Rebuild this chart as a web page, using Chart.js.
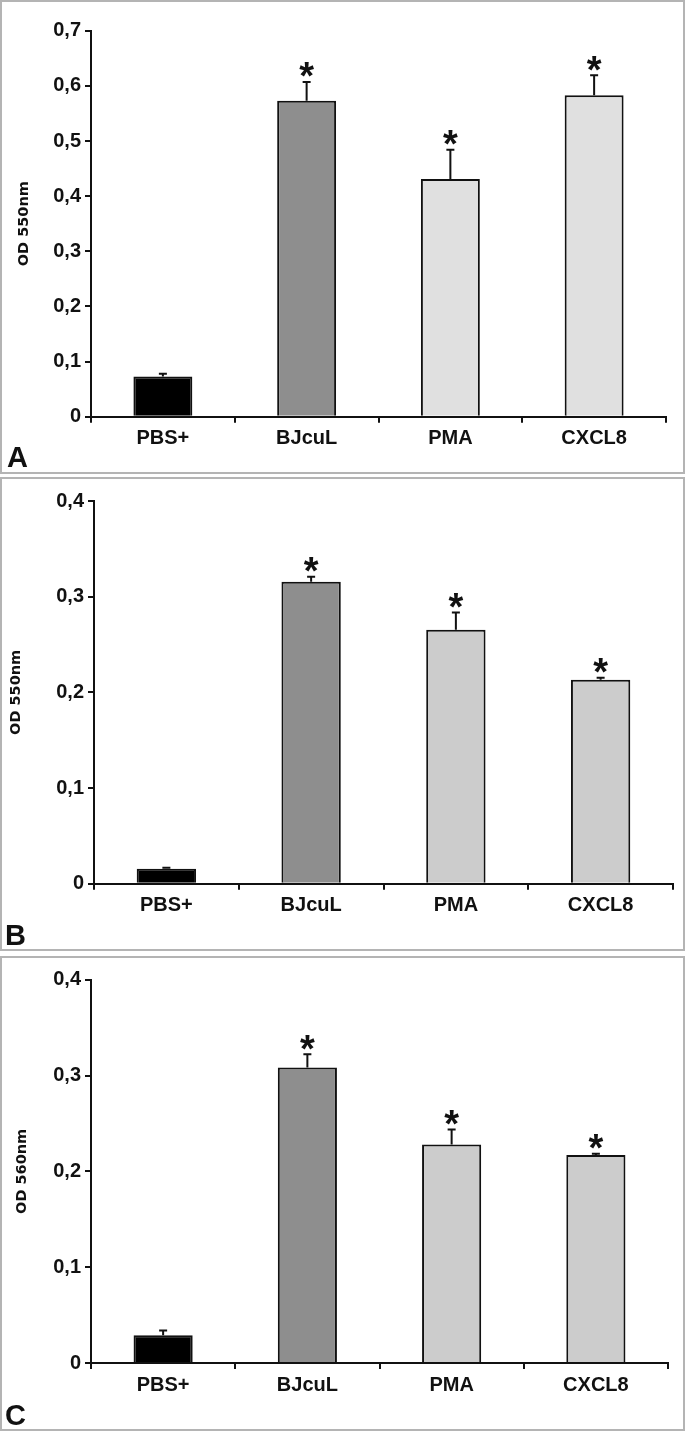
<!DOCTYPE html>
<html><head><meta charset="utf-8">
<script src="https://cdn.jsdelivr.net/npm/chart.js@4.4.1/dist/chart.umd.min.js"></script>
<style>
html,body{margin:0;padding:0;background:#fff;}
body{position:relative;width:685px;height:1433px;overflow:hidden;}
.frame{position:absolute;left:0;width:685px;box-sizing:border-box;border:2px solid #b4b4b4;}
.wrap{position:absolute;left:0;}
.letter{position:absolute;font-family:'Liberation Sans',Arial,sans-serif;font-weight:bold;font-size:29px;color:#111;line-height:1;}
</style></head><body>
<div class="frame" style="top:0;height:474px"></div>
<div class="frame" style="top:477px;height:474px"></div>
<div class="frame" style="top:956px;height:475px"></div>
<div class="wrap" style="top:0"><canvas id="cA" width="685" height="474"></canvas></div>
<div class="wrap" style="top:477px"><canvas id="cB" width="685" height="474"></canvas></div>
<div class="wrap" style="top:956px"><canvas id="cC" width="685" height="475"></canvas></div>
<div class="letter" style="left:7px;top:443px">A</div>
<div class="letter" style="left:5px;top:921px">B</div>
<div class="letter" style="left:5px;top:1401px">C</div>
<script>
// ---- data ----
const categories = ['PBS+', 'BJcuL', 'PMA', 'CXCL8'];
const stars = ['', '*', '*', '*'];

const valuesA = [0.073, 0.573, 0.431, 0.583];
const errorsA = [0.005, 0.034, 0.053, 0.036];
const ticksA = ['0', '0,1', '0,2', '0,3', '0,4', '0,5', '0,6', '0,7'];

const valuesB = [0.0157, 0.3157, 0.2655, 0.2132];
const errorsB = [0.001, 0.005, 0.018, 0.002];
const ticksB = ['0', '0,1', '0,2', '0,3', '0,4'];

const valuesC = [0.029, 0.3085, 0.228, 0.217];
const errorsC = [0.005, 0.0136, 0.0156, 0.0014];
const ticksC = ['0', '0,1', '0,2', '0,3', '0,4'];

const titleA = 'OD 550nm', titleB = 'OD 550nm', titleC = 'OD 560nm';

// ---- styles ----
const INK = '#111';
const colorsA = ['#000000', '#8e8e8e', '#e0e0e0', '#e0e0e0'];
const colorsBC = ['#000000', '#8e8e8e', '#cccccc', '#cccccc'];

const errorPlugin = {
  id: 'errorStars',
  afterDatasetsDraw(chart, args, opts) {
    const ctx = chart.ctx, y = chart.scales.y;
    const meta = chart.getDatasetMeta(0);
    const ds = chart.data.datasets[0];
    ctx.save();
    meta.data.forEach((bar, i) => {
      const v = ds.data[i], e = opts.errors[i];
      const yTop = y.getPixelForValue(v + e);
      const yBar = y.getPixelForValue(v);
      ctx.strokeStyle = INK; ctx.lineWidth = 2;
      ctx.beginPath();
      ctx.moveTo(bar.x, yBar); ctx.lineTo(bar.x, yTop);
      ctx.moveTo(bar.x - 4, yTop); ctx.lineTo(bar.x + 4, yTop);
      ctx.stroke();
      if (opts.stars[i]) {
        const fs = 38;
        ctx.fillStyle = INK;
        ctx.font = 'bold ' + fs + 'px "Liberation Sans", Arial, sans-serif';
        ctx.textAlign = 'center'; ctx.textBaseline = 'alphabetic';
        ctx.fillText(opts.stars[i], bar.x, yTop - 4 + 0.30 * fs);
      }
    });
    ctx.restore();
  }
};

function makeChart(id, values, errors, colors, yMax, tickLabels, title, L) {
  const tickFont = {family: "'Liberation Sans', Arial, sans-serif", weight: 'bold', size: 20};
  return new Chart(document.getElementById(id), {
    type: 'bar',
    data: {
      labels: categories,
      datasets: [{
        data: values,
        backgroundColor: colors,
        borderColor: INK,
        borderWidth: 2,
        barPercentage: 0.41,
        categoryPercentage: 1
      }]
    },
    options: {
      responsive: false,
      animation: false,
      devicePixelRatio: 1,
      layout: {padding: {top: L.top, right: L.right, bottom: L.bottom, left: 0}},
      plugins: {
        legend: {display: false},
        tooltip: {enabled: false},
        errorStars: {errors: errors, stars: stars}
      },
      scales: {
        x: {
          z: 1,
          grid: {display: true, drawOnChartArea: false, drawTicks: true, tickLength: 6, color: INK, lineWidth: 2, offset: true},
          border: {display: true, color: INK, width: 2},
          ticks: {color: INK, font: tickFont, padding: 4, maxRotation: 0},
          afterFit: s => { s.height = 40; }
        },
        y: {
          z: 1,
          min: 0, max: yMax,
          grid: {display: true, drawOnChartArea: false, drawTicks: true, tickLength: 6, color: INK, lineWidth: 2},
          border: {display: true, color: INK, width: 2},
          ticks: {
            stepSize: 0.1, color: INK, font: tickFont, padding: 4,
            callback: (v, i) => tickLabels[i]
          },
          title: {
            display: true, text: title, color: INK,
            font: {family: "'DejaVu Sans', Verdana, sans-serif", weight: 'bold', size: 14.5},
            padding: {top: L.tp, bottom: 0}
          },
          afterFit: s => { s.width = L.yw; }
        }
      }
    },
    plugins: [errorPlugin]
  });
}

makeChart('cA', valuesA, errorsA, colorsA, 0.7, ticksA, titleA, {top: 30.7, right: 19, bottom: 17.3, yw: 91, tp: 15.3});
makeChart('cB', valuesB, errorsB, colorsBC, 0.4, ticksB, titleB, {top: 24, right: 12, bottom: 27.3, yw: 94, tp: 7.3});
makeChart('cC', valuesC, errorsC, colorsBC, 0.4, ticksC, titleC, {top: 23.7, right: 17, bottom: 28, yw: 91, tp: 14});
</script>
</body></html>
